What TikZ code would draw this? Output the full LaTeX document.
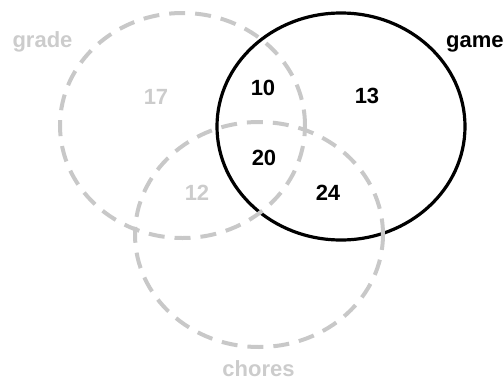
\documentclass[tikz,border=0pt]{standalone}
\usepackage{fontspec}
\setmainfont{Liberation Sans}
\usepackage{tikz}
\definecolor{setgray}{RGB}{200,200,200}
\definecolor{labelgray}{RGB}{204,204,204}
\tikzset{
  dashring/.style={draw=setgray, line width=4pt, dash pattern=on 16pt off 10pt},
  solidring/.style={draw=black, line width=3.2pt},
  graylabel/.style={anchor=base, inner sep=0pt,
    font=\fontsize{22}{26}\selectfont\bfseries, text=labelgray},
  darklabel/.style={anchor=base, inner sep=0pt,
    font=\fontsize{22}{26}\selectfont\bfseries, text=black}
}

\begin{document}
\begin{tikzpicture}[x=1pt, y=-1pt]
  \useasboundingbox (0,0) rectangle (504,381);

  % game (solid)
  \draw[solidring] (341,126.5) ellipse [x radius=124pt, y radius=113.5pt];

  % grade and chores (dashed)
  \draw[dashring] (182.5,125.5) ellipse [x radius=122.5pt, y radius=112.5pt];
  \draw[dashring] (259,234.5) ellipse [x radius=124pt, y radius=112.5pt];

  % set names
  \node[graylabel] (gradename) at (42.5,47) {grade};
  \node[darklabel, anchor=base west] (gamename) at (446,47) {game};
  \node[graylabel] (choresname) at (258.5,376) {chores};

  % counts
  \node[graylabel] (onlygrade) at (156,104) {17};
  \node[graylabel] (gradechores) at (197,200) {12};
  \node[darklabel] (gradegame) at (263,95) {10};
  \node[darklabel] (onlygame) at (367,103) {13};
  \node[darklabel] (allthree) at (264,165) {20};
  \node[darklabel] (gamechores) at (328,200) {24};
\end{tikzpicture}
\end{document}
